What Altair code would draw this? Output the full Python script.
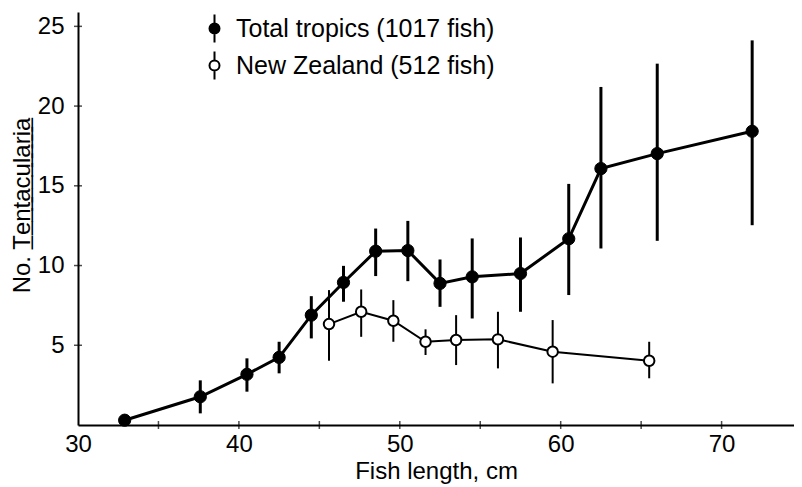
import altair as alt
import pandas as pd

# ---- data ----
tropics_x  = [32.9, 37.6, 40.5, 42.5, 44.5, 46.5, 48.5, 50.5, 52.5, 54.5, 57.5, 60.5, 62.5, 66.0, 71.9]
tropics_y  = [0.3, 1.77, 3.18, 4.24, 6.89, 8.94, 10.9, 10.94, 8.88, 9.29, 9.5, 11.68, 16.08, 17.02, 18.42]
tropics_lo = [0.1, 0.73, 2.09, 3.24, 5.43, 7.73, 9.34, 9.02, 7.41, 6.68, 7.1, 8.15, 11.07, 11.55, 12.53]
tropics_hi = [0.5, 2.8, 4.18, 5.22, 8.08, 9.98, 12.32, 12.8, 10.38, 11.7, 11.76, 15.12, 21.2, 22.66, 24.12]

nz_x  = [45.6, 47.6, 49.6, 51.6, 53.5, 56.1, 59.5, 65.5]
nz_y  = [6.33, 7.1, 6.54, 5.22, 5.33, 5.37, 4.6, 4.03]
nz_lo = [4.03, 5.53, 5.22, 4.39, 3.76, 3.55, 2.61, 2.93]
nz_hi = [8.46, 8.5, 7.83, 6.0, 6.89, 7.1, 6.58, 5.22]

series_names = ["Total tropics (1017 fish)", "New Zealand (512 fish)"]
x_ticks = [35, 40, 45, 50, 55, 60, 65, 70]
x_labels = [30, 40, 50, 60, 70]
y_ticks = [5, 10, 15, 20, 25]

FONT = "Liberation Sans"

trop = pd.DataFrame({"x": tropics_x, "y": tropics_y, "lo": tropics_lo, "hi": tropics_hi,
                     "series": series_names[0]})
nz = pd.DataFrame({"x": nz_x, "y": nz_y, "lo": nz_lo, "hi": nz_hi, "series": series_names[1]})
xt = pd.DataFrame({"x": x_ticks, "y": [0] * len(x_ticks)})
yt = pd.DataFrame({"x": [30] * len(y_ticks), "y": y_ticks})

xscale = alt.Scale(domain=[30, 74.5], nice=False, zero=False)
yscale = alt.Scale(domain=[0, 25.9], nice=False, zero=False)

ytitle = "No. " + "".join(c + "\u0332" for c in "Tentacularia")

X = alt.X("x:Q", scale=xscale,
          axis=alt.Axis(title="Fish length, cm", values=x_labels, format="d", grid=False,
                        labelFlush=False))
Y = alt.Y("y:Q", scale=yscale,
          axis=alt.Axis(title=ytitle, values=y_ticks, format="d", grid=False,
                        labelFlush=False, titleY=193))

fill_enc = alt.Fill("series:N",
                    scale=alt.Scale(domain=series_names, range=["black", "white"]),
                    legend=alt.Legend(
                        title=None, orient="none", legendX=124, legendY=4,
                        symbolType="M0,-2.8L0,-1M0,1L0,2.8M-1,0A1,1 0 1,0 1,0A1,1 0 1,0 -1,0Z",
                        symbolSize=100, symbolStrokeColor="black", symbolStrokeWidth=2,
                        labelFont=FONT, labelFontSize=25, labelColor="black", labelLimit=0,
                        labelOffset=9, rowPadding=0, padding=0))

base_t = alt.Chart(trop)
base_n = alt.Chart(nz)

err_t = base_t.mark_rule(color="black", strokeWidth=3).encode(x=X, y="lo:Q", y2="hi:Q")
line_t = base_t.mark_line(color="black", strokeWidth=3).encode(x=X, y=Y)
pts_t = base_t.mark_point(shape="circle", filled=True, size=150, stroke="black",
                          strokeWidth=1, opacity=1).encode(x=X, y=Y, fill=fill_enc)

err_n = base_n.mark_rule(color="black", strokeWidth=2).encode(x=X, y="lo:Q", y2="hi:Q")
line_n = base_n.mark_line(color="black", strokeWidth=2).encode(x=X, y=Y)
pts_n = base_n.mark_point(shape="circle", filled=True, size=110, stroke="black",
                          strokeWidth=2, opacity=1).encode(x=X, y=Y, fill=fill_enc)

xtick = alt.Chart(xt).mark_tick(orient="vertical", size=8, thickness=1.5, color="black").encode(x=X, y=Y)
ytick = alt.Chart(yt).mark_tick(orient="horizontal", size=8, thickness=1.5, color="black").encode(x=X, y=Y)

chart = alt.layer(err_n, line_n, err_t, line_t, xtick, ytick, pts_n, pts_t).properties(
    width=716, height=413,
    autosize=alt.AutoSizeParams(type="none"),
    padding={"left": 70, "top": 4, "right": 0, "bottom": 62},
).configure_view(stroke=None).configure_axis(
    domainColor="black", domainWidth=2, ticks=False, tickSize=0,
    labelFont=FONT, labelFontSize=24, labelColor="black",
    titleFont=FONT, titleFontSize=24, titleColor="black", titleFontWeight="normal",
).configure_axisX(labelPadding=7, titlePadding=3).configure_axisY(labelPadding=14, titlePadding=3)

chart.save("out.html", embed_options={"renderer": "svg", "actions": False})
